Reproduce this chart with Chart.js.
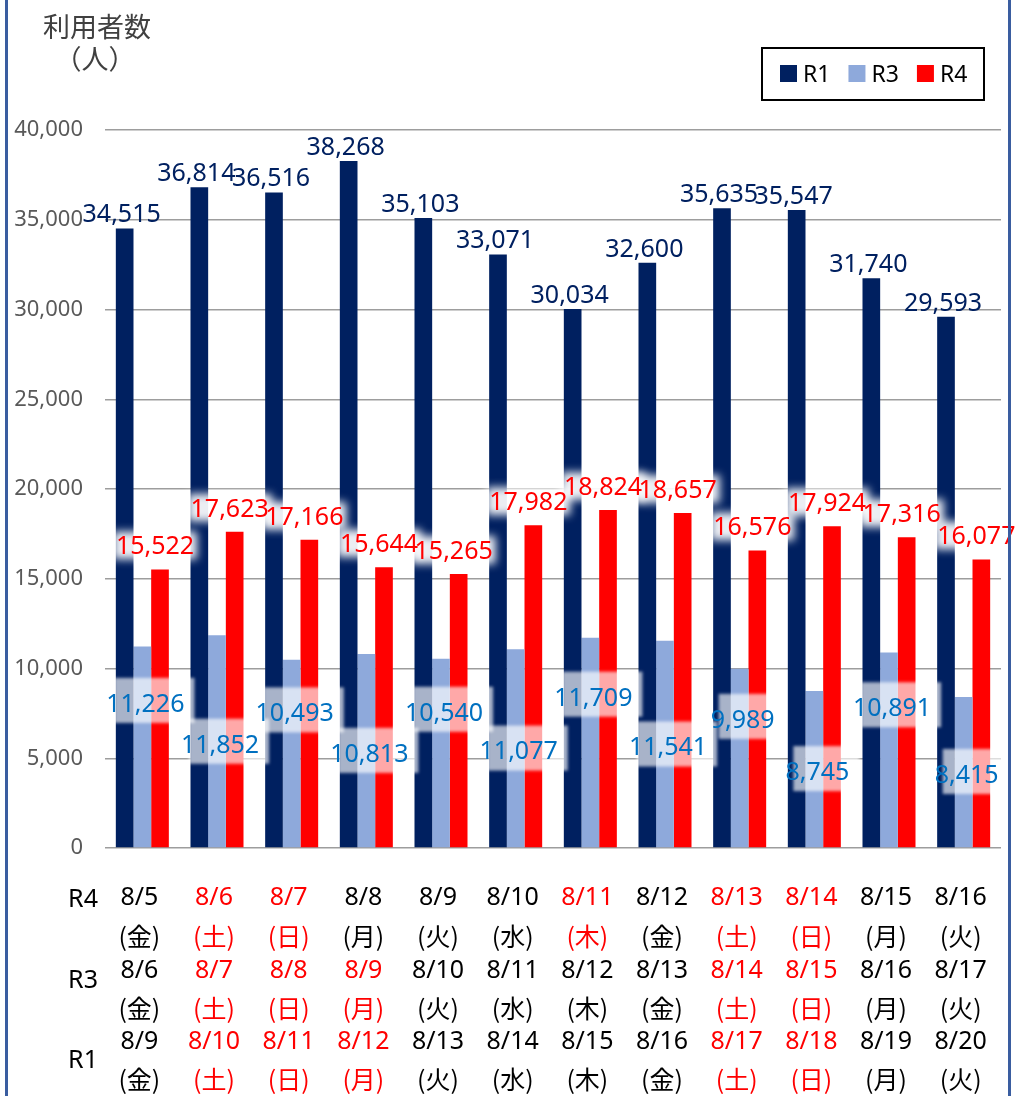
<!DOCTYPE html>
<html>
<head>
<meta charset="utf-8">
<script src="https://cdn.jsdelivr.net/npm/chart.js@4/dist/chart.umd.min.js"></script>
<style>
html,body{margin:0;padding:0;background:#fff;}
#wrap{position:relative;width:1031px;height:1096px;}
</style>
</head>
<body>
<div id="wrap"><canvas id="c" width="1031" height="1096"></canvas></div>
<script>
// ---- data ----
const seriesNames = ['R1', 'R3', 'R4'];
const r4Dates = ['8/5','8/6','8/7','8/8','8/9','8/10','8/11','8/12','8/13','8/14','8/15','8/16'];
const r3Dates = ['8/6','8/7','8/8','8/9','8/10','8/11','8/12','8/13','8/14','8/15','8/16','8/17'];
const r1Dates = ['8/9','8/10','8/11','8/12','8/13','8/14','8/15','8/16','8/17','8/18','8/19','8/20'];
const weekDays = ['金','土','日','月','火','水','木','金','土','日','月','火'];
const r4Holiday = [false,true,true,false,false,false,true,false,true,true,false,false];
const r3Holiday = [false,true,true,true,false,false,false,false,true,true,false,false];
const r1Holiday = [false,true,true,true,false,false,false,false,true,true,false,false];
const r1Values = [34515,36814,36516,38268,35103,33071,30034,32600,35635,35547,31740,29593];
const r3Values = [11226,11852,10493,10813,10540,11077,11709,11541,9989,8745,10891,8415];
const r4Values = [15522,17623,17166,15644,15265,17982,18824,18657,16576,17924,17316,16077];
const yMin = 0, yMax = 40000, yStep = 5000;
const yTitleLines = ['利用者数', '（人）'];

// ---- styles ----
const C_R1 = '#002060', C_R3 = '#8EA9DB', C_R4 = '#FF0000';
const LATIN = '"Noto Sans", "Noto Sans CJK JP", sans-serif';
const CJK = '"Noto Sans CJK JP", "Noto Sans", sans-serif';
const LBL = 25;
const fmt = v => v.toLocaleString('en-US');

function textAt(ctx, txt, cx, cy, size, family, color, align) {
  ctx.font = size + 'px ' + family;
  ctx.fillStyle = color;
  ctx.textAlign = align || 'center';
  ctx.textBaseline = 'alphabetic';
  ctx.fillText(txt, cx, cy + size * 0.357);
}

const decor = {
  id: 'decor',
  beforeDraw(chart) {
    const ctx = chart.ctx;
    ctx.save();
    ctx.fillStyle = '#fff';
    ctx.fillRect(0, 0, chart.width, chart.height);
    ctx.restore();
  },
  afterDatasetsDraw(chart) {
    const ctx = chart.ctx;
    const xs = chart.scales.x, ys = chart.scales.y;
    const m1 = chart.getDatasetMeta(0), m4 = chart.getDatasetMeta(2);
    ctx.save();
    ctx.font = LBL + 'px ' + LATIN;
    const r3Pos = r3Values.map((v, i) => ({
      cx: xs.getPixelForValue(i) + 3,
      cy: ys.getPixelForValue(v * (i % 2 === 0 ? 0.72 : 0.49)),
      w: ctx.measureText(fmt(v)).width
    }));
    const r4Pos = r4Values.map((v, i) => ({
      cx: m4.data[i].x - 5,
      cy: m4.data[i].y - 24,
      w: ctx.measureText(fmt(v)).width
    }));
    // backgrounds first
    r3Pos.forEach(p => {
      ctx.save();
      ctx.filter = 'blur(1.5px)';
      ctx.fillStyle = 'rgba(255,255,255,0.66)';
      ctx.fillRect(p.cx - p.w / 2 + 8, p.cy - 25, p.w + 2, 45);
      ctx.restore();
    });
    r4Pos.forEach(p => {
      ctx.save();
      ctx.filter = 'blur(4px)';
      ctx.fillStyle = 'rgba(255,255,255,0.92)';
      ctx.fillRect(p.cx - p.w / 2 - 3, p.cy - 14, p.w + 6, 28);
      ctx.restore();
    });
    // texts
    r3Values.forEach((v, i) => textAt(ctx, fmt(v), r3Pos[i].cx, r3Pos[i].cy, LBL, LATIN, '#0070C0'));
    r4Values.forEach((v, i) => textAt(ctx, fmt(v), r4Pos[i].cx, r4Pos[i].cy, LBL, LATIN, '#FF0000'));
    r1Values.forEach((v, i) => {
      const bar = m1.data[i];
      textAt(ctx, fmt(v), bar.x - 3, bar.y - 15, LBL, LATIN, '#002060');
    });
    ctx.restore();
  },
  afterDraw(chart) {
    const ctx = chart.ctx;
    const xs = chart.scales.x;
    const base = chart.chartArea.bottom;
    ctx.save();
    // side borders
    ctx.fillStyle = '#3A5DA0';
    ctx.fillRect(5, 0, 3, chart.height);
    ctx.fillRect(1008, 0, 3, chart.height);
    // y title
    textAt(ctx, yTitleLines[0], 97, 27, 27, CJK, '#404040');
    textAt(ctx, yTitleLines[1], 95, 59, 27, CJK, '#404040');
    // legend
    ctx.strokeStyle = '#000';
    ctx.lineWidth = 2;
    ctx.strokeRect(762, 48, 222, 52);
    let lx = 780;
    chart.data.datasets.forEach(ds => {
      ctx.fillStyle = ds.backgroundColor;
      ctx.fillRect(lx, 65, 17, 17);
      ctx.font = '23px ' + LATIN;
      const tw = ctx.measureText(ds.label).width;
      textAt(ctx, ds.label, lx + 23, 74, 23, LATIN, '#000', 'left');
      lx += 23 + tw + 18;
    });
    // category rows
    const rows = [
      {name: seriesNames[2], dates: r4Dates, hol: r4Holiday, d: 48, w: 89, n: 50},
      {name: seriesNames[1], dates: r3Dates, hol: r3Holiday, d: 121, w: 161, n: 131},
      {name: seriesNames[0], dates: r1Dates, hol: r1Holiday, d: 192, w: 232, n: 211}
    ];
    rows.forEach(r => {
      textAt(ctx, r.name, 83, base + r.n, 25, LATIN, '#000');
      r.dates.forEach((dt, i) => {
        const cx = xs.getPixelForValue(i) - 3;
        const col = r.hol[i] ? '#FF0000' : '#000';
        textAt(ctx, dt, cx, base + r.d, 25, LATIN, col);
        textAt(ctx, '(' + weekDays[i] + ')', cx, base + r.w, 25, CJK, col);
      });
    });
    ctx.restore();
  }
};

new Chart(document.getElementById('c'), {
  type: 'bar',
  data: {
    labels: r4Dates,
    datasets: [
      {label: seriesNames[0], data: r1Values, backgroundColor: C_R1},
      {label: seriesNames[1], data: r3Values, backgroundColor: C_R3},
      {label: seriesNames[2], data: r4Values, backgroundColor: C_R4}
    ]
  },
  options: {
    responsive: false,
    animation: false,
    devicePixelRatio: 1,
    layout: {padding: {left: 13, right: 30, top: 130, bottom: 248}},
    datasets: {bar: {categoryPercentage: 0.71, barPercentage: 1.0}},
    plugins: {legend: {display: false}, tooltip: {enabled: false}, title: {display: false}},
    scales: {
      x: {
        grid: {display: false},
        border: {display: false},
        ticks: {display: false},
        afterFit: s => { s.height = 0; }
      },
      y: {
        min: yMin, max: yMax,
        grid: {color: '#9d9d9d', lineWidth: 1.5, drawTicks: false},
        border: {display: false},
        ticks: {
          stepSize: yStep,
          padding: 22,
          color: '#595959',
          font: {family: '"Noto Sans", sans-serif', size: 22},
          callback: v => fmt(v)
        },
        afterFit: s => { s.width = 92; }
      }
    }
  },
  plugins: [decor]
});
</script>
</body>
</html>
